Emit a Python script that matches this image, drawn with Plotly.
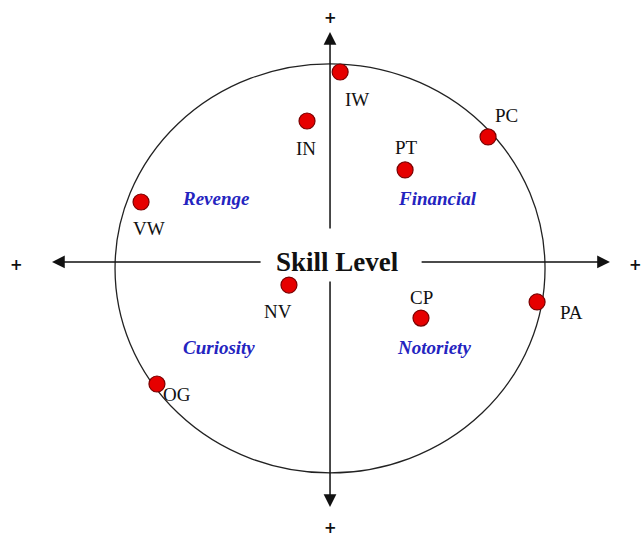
import plotly.graph_objects as go

# Data (abstract coordinates: origin at axes crossing, circle radius ~1)
codes = ["IW", "IN", "PT", "PC", "VW", "NV", "CP", "PA", "OG"]
x_vals = [0.047, -0.107, 0.349, 0.735, -0.879, -0.191, 0.423, 0.963, -0.805]
y_vals = [0.931, 0.691, 0.451, 0.613, 0.294, -0.113, -0.275, -0.196, -0.598]

quadrants = ["Revenge", "Financial", "Curiosity", "Notoriety"]
quad_x = [-0.530, 0.502, -0.516, 0.484]
quad_y = [0.309, 0.309, -0.417, -0.417]

axis_title = "Skill Level"

# styles: label offsets in pixels (dx, dy-up)
label_offsets = {
    "IW": (17, -27), "IN": (-1, -28), "PT": (1, 22), "PC": (18, 21),
    "VW": (8, -27), "NV": (-11, -26), "CP": (1, 21), "PA": (34, -11),
    "OG": (20, -11),
}

W, H = 642, 537
x_range = [-1.535, 1.451]
y_range = [-1.348, 1.284]

fig = go.Figure()

# circle
fig.add_shape(type="circle", xref="x", yref="y", x0=-1.0, x1=1.0, y0=-1.034, y1=0.971,
              line=dict(color="#222222", width=1.3), layer="below")

# points
fig.add_trace(go.Scatter(
    x=x_vals, y=y_vals, mode="markers",
    marker=dict(size=16, color="#e60000", line=dict(color="#7a0000", width=1.2)),
    hoverinfo="skip", showlegend=False,
))

serif = "Liberation Serif, Times New Roman, serif"
annotations = []
for c, x, y in zip(codes, x_vals, y_vals):
    dx, dy = label_offsets[c]
    annotations.append(dict(x=x, y=y, xref="x", yref="y", text=c, showarrow=False,
                            xshift=dx, yshift=dy,
                            font=dict(family=serif, size=19, color="#111111")))

for t, x, y in zip(quadrants, quad_x, quad_y):
    annotations.append(dict(x=x, y=y, xref="x", yref="y", text="<b><i>" + t + "</i></b>",
                            showarrow=False,
                            font=dict(family=serif, size=19, color="#2424c0")))

annotations.append(dict(x=0.037, y=0.0, xref="x", yref="y", text="<b>" + axis_title + "</b>",
                        showarrow=False, font=dict(family=serif, size=27, color="#111111")))

# axis arrows (tip, tail)
arrows = [
    ((-1.293, 0.0), (-0.316, 0.0)),
    ((1.302, 0.0), (0.419, 0.0)),
    ((0.0, 1.127), (0.0, 0.157)),
    ((0.0, -1.201), (0.0, -0.088)),
]
for (tx, ty), (sx, sy) in arrows:
    annotations.append(dict(x=tx, y=ty, ax=sx, ay=sy, xref="x", yref="y", axref="x", ayref="y",
                            showarrow=True, arrowhead=2, arrowsize=1.7, arrowwidth=1.5,
                            arrowcolor="#111111", text=""))

# plus signs at the arrow ends
for px, py in [(0.0, 1.196), (0.0, -1.304), (-1.456, -0.015), (1.42, -0.015)]:
    annotations.append(dict(x=px, y=py, xref="x", yref="y", text="<b>+</b>", showarrow=False,
                            font=dict(family="DejaVu Sans, sans-serif", size=15, color="#111111")))

fig.update_layout(
    width=W, height=H, autosize=False,
    margin=dict(l=0, r=0, t=0, b=0),
    paper_bgcolor="white", plot_bgcolor="white",
    xaxis=dict(range=x_range, visible=False, fixedrange=True),
    yaxis=dict(range=y_range, visible=False, fixedrange=True),
    annotations=annotations,
    showlegend=False,
)

fig.write_html("out.html", config={"displayModeBar": False},
               post_script="document.body.style.margin='0';")
